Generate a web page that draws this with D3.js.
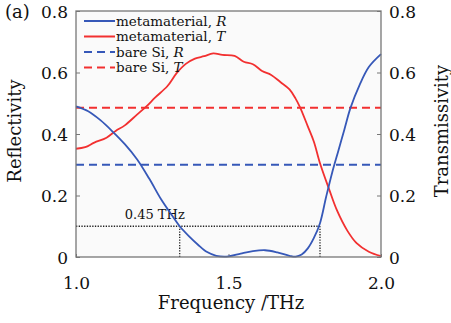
<!DOCTYPE html>
<html>
<head>
<meta charset="utf-8">
<script src="https://cdn.jsdelivr.net/npm/d3@7"></script>
<style>
  body { margin: 0; background: #fff; }
  text { font-family: "DejaVu Serif", serif; fill: #111; }
</style>
</head>
<body>
<div class="chart"></div>
<script>
// metamaterial reflectivity R
const freqR = [1.00, 1.04, 1.08, 1.12, 1.16, 1.20, 1.24, 1.28, 1.32, 1.34, 1.37, 1.40, 1.43, 1.46, 1.50,
               1.54, 1.58, 1.62, 1.66, 1.70, 1.72, 1.74, 1.76, 1.78, 1.80, 1.82, 1.84, 1.86, 1.88, 1.90,
               1.93, 1.96, 2.00]
const valR = [0.490, 0.474, 0.445, 0.408, 0.367, 0.318, 0.255, 0.186, 0.128, 0.100, 0.068, 0.040, 0.016, 0.004, 0.002,
              0.011, 0.019, 0.022, 0.015, 0.004, 0.001, 0.008, 0.028, 0.062, 0.110, 0.195, 0.275, 0.345, 0.415, 0.485,
              0.560, 0.618, 0.660]
// metamaterial transmissivity T
const freqT = [1.00, 1.03, 1.06, 1.10, 1.13, 1.16, 1.20, 1.23, 1.26, 1.30, 1.33, 1.36, 1.39, 1.42, 1.45,
               1.48, 1.52, 1.55, 1.58, 1.61, 1.64, 1.67, 1.70, 1.72, 1.735, 1.76, 1.78, 1.80, 1.83, 1.855,
               1.89, 1.92, 1.96, 2.00]
const valT = [0.352, 0.357, 0.372, 0.388, 0.410, 0.428, 0.463, 0.489, 0.519, 0.556, 0.598, 0.628, 0.645, 0.653, 0.662,
              0.657, 0.654, 0.635, 0.627, 0.605, 0.592, 0.569, 0.545, 0.515, 0.486, 0.425, 0.375, 0.305, 0.220, 0.153,
              0.085, 0.045, 0.017, 0.003]
// bare Si levels
const bareR = 0.30
const bareT = 0.485
// bandwidth guide
const guideLevel = 0.1
const guideFreqs = [1.34, 1.80]
const guideLabel = "0.45 THz"

const yTicks = [0, 0.2, 0.4, 0.6, 0.8]
const xTicks = [1.0, 1.5, 2.0]
const legendLabels = [["metamaterial, ", "R"], ["metamaterial, ", "T"], ["bare Si, ", "R"], ["bare Si, ", "T"]]

const width = 451
const height = 323
const mLeft = 76, mRight = 381, mTop = 11, mBottom = 257
const blue = "#3658b8"
const red = "#f23030"
const axisColor = "#777"

const svg = d3.select(".chart").append("svg")
    .attr("width", width)
    .attr("height", height)

const x = d3.scaleLinear().domain([1.0, 2.0]).range([mLeft, mRight])
const y = d3.scaleLinear().domain([0, 0.8]).range([mBottom, mTop])

svg.append("rect")
    .attr("x", mLeft).attr("y", mTop)
    .attr("width", mRight - mLeft).attr("height", mBottom - mTop)
    .attr("fill", "#fafafa")

const fmtY = v => v === 0 ? "0" : d3.format(".1f")(v)

// left axis
svg.append("g")
    .attr("transform", `translate(${mLeft},0)`)
    .call(d3.axisLeft(y).tickValues(yTicks).tickSize(-4).tickPadding(8).tickFormat(fmtY))
    .call(g => g.select(".domain").remove())
    .call(g => g.selectAll("line").attr("stroke", axisColor))
    .call(g => g.selectAll("text").attr("font-size", 17).attr("font-family", "DejaVu Serif").attr("dy", "0.38em"))

// right axis
svg.append("g")
    .attr("transform", `translate(${mRight},0)`)
    .call(d3.axisRight(y).tickValues(yTicks).tickSize(-4).tickPadding(8).tickFormat(fmtY))
    .call(g => g.select(".domain").remove())
    .call(g => g.selectAll("line").attr("stroke", axisColor))
    .call(g => g.selectAll("text").attr("font-size", 17).attr("font-family", "DejaVu Serif").attr("dy", "0.38em"))

// bottom axis
svg.append("g")
    .attr("transform", `translate(0,${mBottom})`)
    .call(d3.axisBottom(x).tickValues(xTicks).tickSize(-3).tickPadding(20).tickFormat(d3.format(".1f")))
    .call(g => g.select(".domain").remove())
    .call(g => g.selectAll("line").attr("stroke", axisColor))
    .call(g => g.selectAll("text").attr("font-size", 17).attr("font-family", "DejaVu Serif"))

// guide lines
const guide = svg.append("g")
    .attr("stroke", "#222")
    .attr("stroke-width", 1.3)
    .attr("stroke-dasharray", "1.3,1.4")
guide.append("line")
    .attr("x1", x(1.0)).attr("x2", x(guideFreqs[1]))
    .attr("y1", y(guideLevel)).attr("y2", y(guideLevel))
guide.selectAll(".v")
    .data(guideFreqs)
    .join("line")
    .attr("x1", d => x(d)).attr("x2", d => x(d))
    .attr("y1", y(0)).attr("y2", y(guideLevel))

svg.append("text")
    .attr("x", x(1.16)).attr("y", y(guideLevel) - 7)
    .attr("font-size", 13)
    .text(guideLabel)

// bare Si dashed
svg.append("line")
    .attr("x1", x(1.0)).attr("x2", x(2.0))
    .attr("y1", y(bareR)).attr("y2", y(bareR))
    .attr("stroke", blue).attr("stroke-width", 2).attr("stroke-dasharray", "8,5")
svg.append("line")
    .attr("x1", x(1.0)).attr("x2", x(2.0))
    .attr("y1", y(bareT)).attr("y2", y(bareT))
    .attr("stroke", red).attr("stroke-width", 2).attr("stroke-dasharray", "8,5")

const line = d3.line()
    .x(d => x(d[0]))
    .y(d => y(d[1]))
    .curve(d3.curveCatmullRom)

svg.append("path")
    .datum(d3.zip(freqT, valT))
    .attr("d", line)
    .attr("fill", "none")
    .attr("stroke", red)
    .attr("stroke-width", 1.8)

svg.append("path")
    .datum(d3.zip(freqR, valR))
    .attr("d", line)
    .attr("fill", "none")
    .attr("stroke", blue)
    .attr("stroke-width", 1.8)

// frame
svg.append("rect")
    .attr("x", mLeft).attr("y", mTop)
    .attr("width", mRight - mLeft).attr("height", mBottom - mTop)
    .attr("fill", "none")
    .attr("stroke", axisColor)
    .attr("stroke-width", 1.3)

// legend
const legColors = [blue, red, blue, red]
const legDash = [null, null, "8,5", "8,5"]
const leg = svg.append("g")
legendLabels.forEach((lab, i) => {
    const ly = 21 + i * 15.5
    leg.append("line")
        .attr("x1", 84).attr("x2", 115)
        .attr("y1", ly).attr("y2", ly)
        .attr("stroke", legColors[i])
        .attr("stroke-width", 2)
        .attr("stroke-dasharray", legDash[i])
    const t = leg.append("text")
        .attr("x", 116).attr("y", ly + 4.5)
        .attr("font-size", 13.5)
    t.append("tspan").text(lab[0])
    t.append("tspan").attr("font-style", "italic").text(lab[1])
})

// titles
svg.append("text")
    .attr("x", 5).attr("y", 18)
    .attr("font-size", 18)
    .text("(a)")

svg.append("text")
    .attr("transform", `translate(21,131) rotate(-90)`)
    .attr("text-anchor", "middle")
    .attr("font-size", 18)
    .text("Reflectivity")

svg.append("text")
    .attr("transform", `translate(448,131) rotate(-90)`)
    .attr("text-anchor", "middle")
    .attr("font-size", 18)
    .text("Transmissivity")

svg.append("text")
    .attr("x", 231).attr("y", 309)
    .attr("text-anchor", "middle")
    .attr("font-size", 18)
    .text("Frequency /THz")
</script>
</body>
</html>
